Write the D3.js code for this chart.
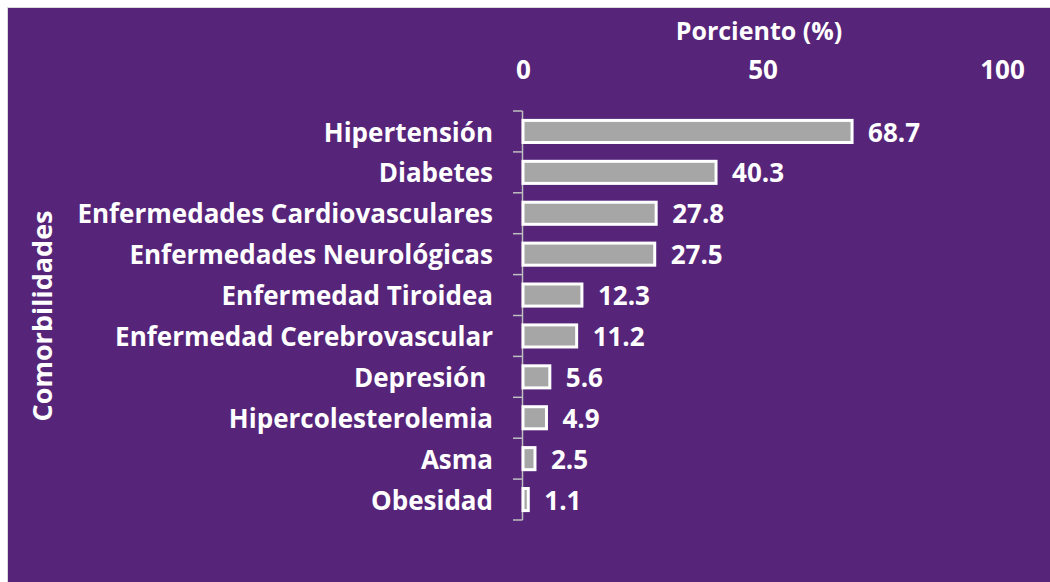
<!DOCTYPE html>
<html>
<head>
<meta charset="utf-8">
<script src="https://cdn.jsdelivr.net/npm/d3@7"></script>
<style>
  body { margin: 0; background: #ffffff; }
  svg text { font-family: "Open Sans", Lato, sans-serif; font-weight: bold; fill: #ffffff; }
</style>
</head>
<body>
<div id="chart"></div>
<script>
// comorbidities, top to bottom
const categories = [
    "Hipertensión",
    "Diabetes",
    "Enfermedades Cardiovasculares",
    "Enfermedades Neurológicas",
    "Enfermedad Tiroidea",
    "Enfermedad Cerebrovascular",
    "Depresión ",
    "Hipercolesterolemia",
    "Asma",
    "Obesidad"
];
const values = [68.7, 40.3, 27.8, 27.5, 12.3, 11.2, 5.6, 4.9, 2.5, 1.1];
const xTicks = [0, 50, 100];

const data = categories.map((c, i) => ({ name: c, value: values[i] }));

const width = 1050;
const height = 582;

const svg = d3.select("#chart")
    .append("svg")
    .attr("width", width)
    .attr("height", height);

// chart area background
svg.append("rect")
    .attr("x", 7.5)
    .attr("y", 7.5)
    .attr("width", width)
    .attr("height", height)
    .attr("fill", "#56257a")
    .attr("stroke", "#d9d9d9")
    .attr("stroke-width", 1);

const x = d3.scaleLinear()
    .domain([0, 100])
    .range([523, 1002]);

const y = d3.scaleBand()
    .domain(categories)
    .range([111, 520])
    .paddingInner(0.46)
    .paddingOuter(0.23);

// x axis on top
const xAxis = svg.append("g")
    .attr("transform", "translate(0, 79)")
    .call(d3.axisTop(x).tickValues(xTicks).tickSize(0).tickPadding(0));
xAxis.select(".domain").remove();
xAxis.selectAll("text")
    .style("font-size", "26px")
    .attr("fill", "#ffffff");

svg.append("text")
    .attr("x", 759)
    .attr("y", 40)
    .attr("text-anchor", "middle")
    .style("font-size", "25px")
    .text("Porciento (%)");

// y axis with ticks between categories
const yAxisG = svg.append("g");
yAxisG.append("line")
    .attr("x1", 522.5).attr("x2", 522.5)
    .attr("y1", y.range()[0]).attr("y2", y.range()[1])
    .attr("stroke", "#bfbfbf")
    .attr("stroke-width", 1.5);

const tickYs = d3.range(categories.length + 1).map(i => y.range()[0] + (y.range()[1] - y.range()[0]) * i / categories.length);
yAxisG.selectAll(".tk")
    .data(tickYs)
    .join("line")
    .attr("class", "tk")
    .attr("x1", 513).attr("x2", 522.5)
    .attr("y1", d => d).attr("y2", d => d)
    .attr("stroke", "#bfbfbf")
    .attr("stroke-width", 1.5);

svg.selectAll(".cat")
    .data(data)
    .join("text")
    .attr("class", "cat")
    .attr("x", 493)
    .attr("y", d => y(d.name) + y.bandwidth() / 2 + 1)
    .attr("dy", "0.35em")
    .attr("text-anchor", "end")
    .style("font-size", "26px")
    .style("white-space", "pre")
    .attr("xml:space", "preserve")
    .text(d => d.name);

// bars
svg.selectAll(".bar")
    .data(data)
    .join("rect")
    .attr("class", "bar")
    .attr("x", x(0))
    .attr("y", d => y(d.name))
    .attr("width", d => x(d.value) - x(0))
    .attr("height", y.bandwidth())
    .attr("fill", "#a6a6a6")
    .attr("stroke", "#ffffff")
    .attr("stroke-width", 3);

// value labels
svg.selectAll(".val")
    .data(data)
    .join("text")
    .attr("class", "val")
    .attr("x", d => x(d.value) + 16)
    .attr("y", d => y(d.name) + y.bandwidth() / 2 + 1)
    .attr("dy", "0.35em")
    .style("font-size", "26px")
    .text(d => d.value.toFixed(1));

// y axis title
svg.append("text")
    .attr("transform", "translate(52, 316) rotate(-90)")
    .attr("text-anchor", "middle")
    .style("font-size", "27px")
    .text("Comorbilidades");
</script>
</body>
</html>
